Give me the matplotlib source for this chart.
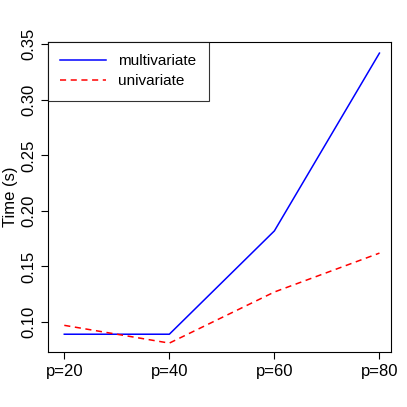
import matplotlib
matplotlib.use("Agg")
import matplotlib.pyplot as plt

plt.rcParams["font.family"] = ["Liberation Sans", "DejaVu Sans"]

labels = ["p=20", "p=40", "p=60", "p=80"]
multivariate = [0.089, 0.089, 0.182, 0.342]
univariate = [0.097, 0.081, 0.127, 0.162]
yticks = [0.10, 0.15, 0.20, 0.25, 0.30, 0.35]

fig = plt.figure(figsize=(4.07, 4.07), dpi=100)
ax = fig.add_axes([48/407, 55/407, 343/407, 310/407])
x = range(len(labels))
ax.plot(x, multivariate, color="blue", lw=1.1, label="multivariate")
ax.plot(x, univariate, color="red", lw=1.1, ls=(0, (4, 3)), label="univariate")
ax.set_xlim(-0.155, 3.11)
ax.set_ylim(0.073, 0.352)
ax.set_xticks(list(x))
ax.set_xticklabels(labels, fontsize=12)
ax.set_yticks(yticks)
ax.set_yticklabels(["%.2f" % v for v in yticks], rotation=90, va="center", fontsize=12)
ax.set_ylabel("Time (s)", fontsize=12, labelpad=2)
ax.tick_params(direction="out", length=5)
leg = ax.legend(loc="upper left", bbox_to_anchor=(0, 1), borderaxespad=0,
                fancybox=False, edgecolor="black", fontsize=11,
                handlelength=3, borderpad=0.8, labelspacing=0.4)
leg.get_frame().set_linewidth(0.8)
fig.savefig("out.png", dpi=100)
